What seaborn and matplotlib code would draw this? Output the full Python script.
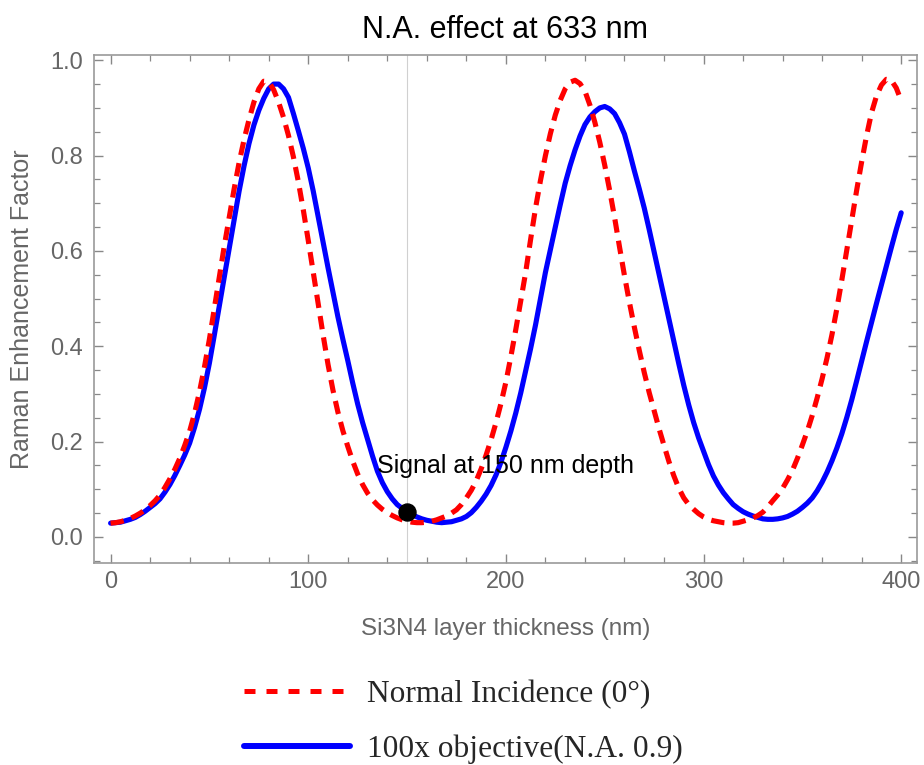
import matplotlib

matplotlib.use("Agg")
import matplotlib.pyplot as plt
import numpy as np
import pandas as pd
import seaborn as sns
from matplotlib.lines import Line2D
from matplotlib.ticker import FormatStrFormatter, MultipleLocator

# thickness of the Si3N4 layer (nm), 2.5 nm steps
thickness = [i * 2.5 for i in range(161)]

normal_incidence = [
    0.029, 0.030, 0.032, 0.035, 0.039, 0.044, 0.050, 0.057, 0.066, 0.076,
    0.088, 0.104, 0.122, 0.142, 0.165, 0.192, 0.222, 0.260, 0.305, 0.357,
    0.415, 0.480, 0.545, 0.610, 0.670, 0.730, 0.785, 0.833, 0.875, 0.912,
    0.940, 0.956, 0.955, 0.938, 0.912, 0.880, 0.842, 0.797, 0.745, 0.686,
    0.622, 0.556, 0.490, 0.424, 0.362, 0.308, 0.262, 0.223, 0.190, 0.159,
    0.132, 0.110, 0.092, 0.078, 0.067, 0.058, 0.051, 0.045, 0.040, 0.036,
    0.033, 0.031, 0.030, 0.030, 0.031, 0.033, 0.036, 0.040, 0.044, 0.050,
    0.057, 0.068, 0.082, 0.098, 0.118, 0.143, 0.172, 0.204, 0.240, 0.280,
    0.325, 0.378, 0.435, 0.495, 0.555, 0.624, 0.690, 0.748, 0.800, 0.846,
    0.885, 0.916, 0.940, 0.954, 0.958, 0.951, 0.935, 0.906, 0.870, 0.828,
    0.780, 0.727, 0.670, 0.608, 0.548, 0.492, 0.440, 0.391, 0.345, 0.303,
    0.265, 0.227, 0.192, 0.158, 0.128, 0.102, 0.082, 0.068, 0.058, 0.049,
    0.042, 0.037, 0.034, 0.032, 0.030, 0.029, 0.029, 0.030, 0.033, 0.036,
    0.040, 0.045, 0.052, 0.063, 0.076, 0.088, 0.102, 0.120, 0.140, 0.165,
    0.193, 0.222, 0.255, 0.292, 0.332, 0.376, 0.425, 0.480, 0.540, 0.602,
    0.665, 0.728, 0.787, 0.842, 0.890, 0.925, 0.948, 0.960, 0.958, 0.942,
    0.915,
]

objective_na09 = [
    0.029, 0.030, 0.031, 0.034, 0.037, 0.041, 0.047, 0.054, 0.062, 0.070,
    0.080, 0.094, 0.110, 0.129, 0.150, 0.172, 0.197, 0.230, 0.268, 0.313,
    0.365, 0.424, 0.485, 0.545, 0.605, 0.666, 0.725, 0.778, 0.825, 0.864,
    0.895, 0.920, 0.940, 0.950, 0.950, 0.940, 0.922, 0.888, 0.852, 0.815,
    0.774, 0.726, 0.672, 0.618, 0.565, 0.513, 0.462, 0.415, 0.370, 0.323,
    0.279, 0.240, 0.205, 0.170, 0.138, 0.114, 0.095, 0.080, 0.068, 0.060,
    0.053, 0.047, 0.042, 0.038, 0.035, 0.033, 0.031, 0.030, 0.031, 0.032,
    0.035, 0.038, 0.043, 0.051, 0.062, 0.075, 0.090, 0.108, 0.130, 0.157,
    0.188, 0.222, 0.260, 0.302, 0.348, 0.395, 0.445, 0.500, 0.555, 0.603,
    0.650, 0.697, 0.742, 0.779, 0.812, 0.841, 0.865, 0.881, 0.892, 0.900,
    0.903, 0.898, 0.888, 0.869, 0.845, 0.808, 0.768, 0.730, 0.690, 0.645,
    0.598, 0.551, 0.505, 0.457, 0.410, 0.363, 0.318, 0.277, 0.240, 0.208,
    0.180, 0.152, 0.128, 0.109, 0.093, 0.080, 0.068, 0.060, 0.053, 0.048,
    0.044, 0.041, 0.038, 0.037, 0.037, 0.038, 0.040, 0.043, 0.048, 0.054,
    0.062, 0.071, 0.082, 0.097, 0.115, 0.136, 0.160, 0.187, 0.217, 0.251,
    0.288, 0.328, 0.369, 0.410, 0.450, 0.490, 0.529, 0.568, 0.607, 0.645,
    0.680,
]

signal_depth = 150
signal_value = 0.053
labels = ["Normal Incidence (0°)", "100x objective(N.A. 0.9)"]

sns.set_style("ticks")
plt.rcParams["font.family"] = ["Liberation Sans", "DejaVu Sans"]

GRAY = "#666666"
RED = "#ff0000"
BLUE = "#0000ff"

df = pd.DataFrame({
    "thickness": thickness,
    "normal": normal_incidence,
    "objective": objective_na09,
})

fig = plt.figure(figsize=(9.24, 7.65), dpi=100)
ax = fig.add_axes([94 / 924, 1 - 563 / 765, (917 - 94) / 924, (563 - 55) / 765])

ax.axvline(signal_depth, color="#d0d0d0", lw=0.8, zorder=1)

sns.lineplot(data=df, x="thickness", y="objective", ax=ax, color=BLUE, lw=3.7,
             solid_joinstyle="round", zorder=3)
sns.lineplot(data=df, x="thickness", y="normal", ax=ax, color=RED, lw=3.7,
             linestyle=(0, (2.6, 1.6)), zorder=4)

ax.scatter([signal_depth], [signal_value], s=150, color="black", zorder=6)
ax.text(200, 0.134, "Signal at 150 nm depth", ha="center", va="baseline",
        fontsize=18, color="black", zorder=7)

ax.set_xlim(-8.4, 408)
ax.set_ylim(-0.0546, 1.011)
ax.xaxis.set_major_locator(MultipleLocator(100))
ax.xaxis.set_minor_locator(MultipleLocator(20))
ax.yaxis.set_major_locator(MultipleLocator(0.2))
ax.yaxis.set_minor_locator(MultipleLocator(0.05))
ax.yaxis.set_major_formatter(FormatStrFormatter("%.1f"))

ax.tick_params(which="both", direction="in", top=True, right=True,
               color="#888888", labelcolor=GRAY, labelsize=17)
ax.tick_params(which="major", length=6.5, width=1.0)
ax.tick_params(which="minor", length=4.3, width=0.9)
ax.tick_params(axis="y", pad=8)
ax.tick_params(axis="x", pad=6)
for spine in ax.spines.values():
    spine.set_color("#999999")
    spine.set_linewidth(1.2)

ax.set_xlabel("Si3N4 layer thickness (nm)", fontsize=17.5, color=GRAY, labelpad=18)
ax.set_ylabel("Raman Enhancement Factor", fontsize=18, color=GRAY)
ax.yaxis.set_label_coords(-60 / 823, 0.5)
ax.set_title("N.A. effect at 633 nm", fontsize=22, color="black", pad=12)

handles = [
    Line2D([], [], color=RED, lw=3.6, linestyle=(0, (2.2, 2.2))),
    Line2D([], [], color=BLUE, lw=4.3),
]
fig.legend(handles, labels, loc="upper left", bbox_to_anchor=(244 / 924, 1 - 680 / 765),
           frameon=False, borderpad=0, borderaxespad=0,
           prop={"family": ["Liberation Serif", "DejaVu Serif"], "size": 22.6},
           handlelength=3.37, handletextpad=0.54, labelspacing=0.8)

fig.savefig("out.png", dpi=100)
